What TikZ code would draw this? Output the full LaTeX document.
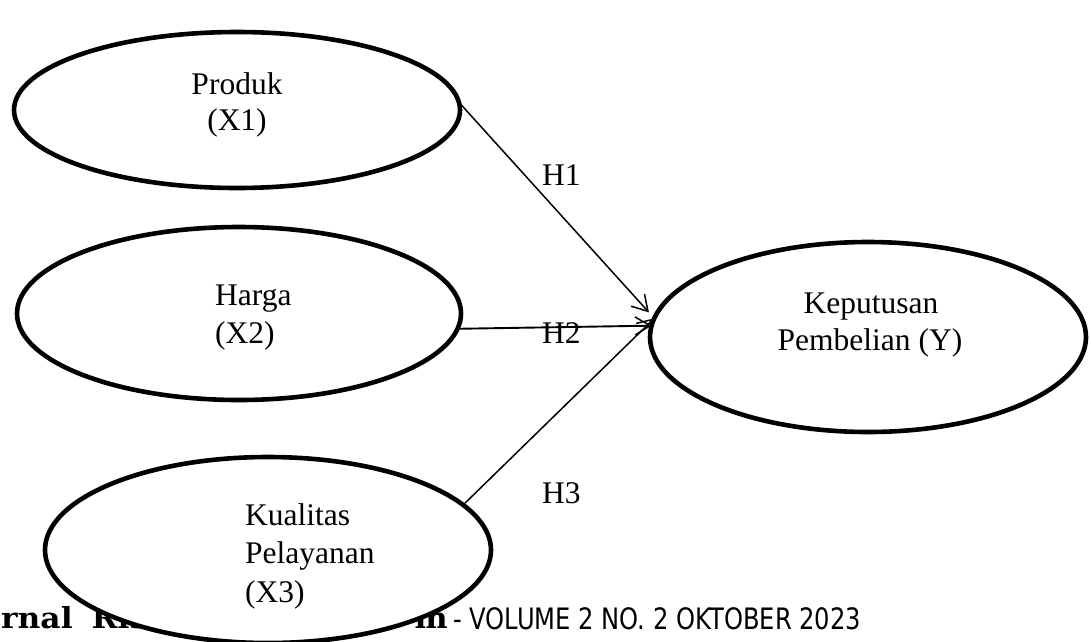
\documentclass[tikz,border=0pt]{standalone}
\usepackage{fontspec}
\setmainfont{Liberation Serif}
\newfontfamily\footserif{DejaVu Serif}[FakeStretch=1.08]
\newfontfamily\footsans{DejaVu Sans}[FakeStretch=0.82]
\usetikzlibrary{shapes.geometric,arrows.meta}
\begin{document}
\begin{tikzpicture}[x=1pt,y=-1pt,
  var/.style={ellipse, draw, line width=4.6pt, fill=white, inner sep=0pt, outer sep=0pt},
  lbl/.style={inner sep=0pt, font=\fontsize{31.5}{37}\selectfont},
  link/.style={line width=1.5pt, -{Straight Barb[length=15pt,width=18pt,line width=1.5pt]}},
  footb/.style={inner sep=0pt, font=\footserif\bfseries\fontsize{29}{29}\selectfont},
  foots/.style={inner sep=0pt, font=\footsans\fontsize{29.5}{29.5}\selectfont}]
\useasboundingbox (0,0) rectangle (1091,641);
% footer (partly hidden)
\node[footb, anchor=base west] (f1) at (1,628) {rnal\hskip 19pt Riset};
\node[footb, anchor=base east] (f2) at (448,628) {m};
\node[foots, anchor=base west] (f3) at (453,629) {- VOLUME 2 NO. 2 OKTOBER 2023};
% ellipses
\node[var, minimum width=446pt, minimum height=156pt] (p1) at (237,110) {};
\node[var, minimum width=444pt, minimum height=173pt] (p2) at (239,313.5) {};
\node[var, minimum width=446pt, minimum height=186pt] (p3) at (268,550) {};
\node[var, minimum width=436pt, minimum height=190pt] (y) at (868,337) {};
% texts
\node[lbl, anchor=base] (t1a) at (237,94) {Produk};
\node[lbl, anchor=base] (t1b) at (237,130) {(X1)};
\node[lbl, anchor=base west] (t2a) at (215,305) {Harga};
\node[lbl, anchor=base west] (t2b) at (215,343) {(X2)};
\node[lbl, anchor=base west] (t3a) at (245,525) {Kualitas};
\node[lbl, anchor=base west] (t3b) at (245,563) {Pelayanan};
\node[lbl, anchor=base west] (t3c) at (245,602) {(X3)};
\node[lbl, anchor=base] (tya) at (871,313) {Keputusan};
\node[lbl, anchor=base] (tyb) at (870,350) {Pembelian (Y)};
% connectors
\draw[link, shorten >=8pt] (p1.2) -- (y.175.5);
\draw[link, line width=1.9pt] (p2.-4) -- (y.177.6);
\draw[link] (p3.13) -- (y.175.5);
% hypothesis labels
\node[lbl, anchor=base west] (h1) at (542,185) {H1};
\node[lbl, anchor=base west] (h2) at (542,343) {H2};
\node[lbl, anchor=base west] (h3) at (542,503) {H3};
\end{tikzpicture}
\end{document}
